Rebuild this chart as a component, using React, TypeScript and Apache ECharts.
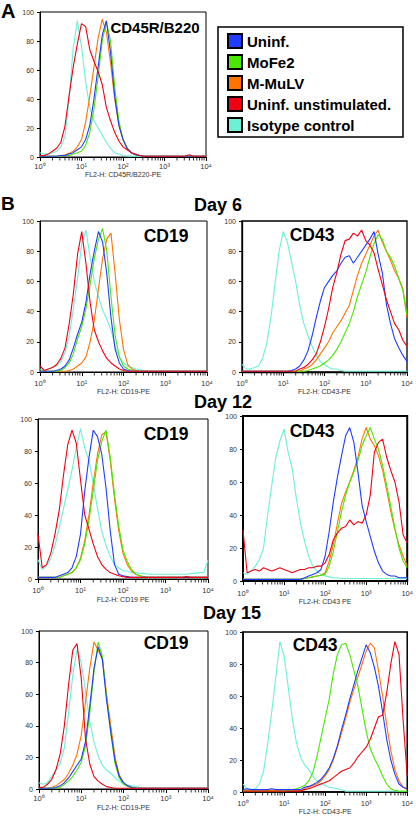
import React, { useEffect, useRef } from 'react';
import * as echarts from 'echarts';

// log10 of fluorescence intensity (decades)
const X_LOG = [0, 0.1, 0.2, 0.3, 0.4, 0.5, 0.6, 0.7, 0.8, 0.9, 1, 1.1, 1.2, 1.3, 1.4, 1.5, 1.6, 1.7, 1.8, 1.9, 2, 2.1, 2.2, 2.3, 2.4, 2.5, 2.6, 2.7, 2.8, 2.9, 3, 3.1, 3.2, 3.3, 3.4, 3.5, 3.6, 3.7, 3.8, 3.9, 4];
const X_TICK_LABELS = ['10⁰', '10¹', '10²', '10³', '10⁴'];
const SERIES_NAMES = ['Uninf.', 'MoFe2', 'M-MuLV', 'Uninf. unstimulated.', 'Isotype control'];

// Panel A: CD45R/B220
const A_BLUE = [0.5, 0.5, 0.5, 0.5, 0.5, 1, 1, 2, 3, 5, 7, 12, 22, 40, 62, 84, 94, 72, 42, 22, 12, 6, 3, 1.5, 1, 0.5, 0.5, 0.5, 0.5, 0.5, 0.5, 0.5, 0.5, 0.5, 0.5, 0.5, 0.5, 0.5, 0.5, 0.5, 0.5];
const A_GREEN = [0.5, 0.5, 0.5, 0.5, 0.5, 0.5, 1, 1, 2, 3, 4, 8, 17, 33, 55, 80, 93, 80, 48, 25, 12, 6, 3, 1.5, 1, 0.5, 0.5, 0.5, 0.5, 0.5, 0.5, 0.5, 0.5, 0.5, 0.5, 0.5, 0.5, 0.5, 0.5, 0.5, 0.5];
const A_ORANGE = [0.5, 0.5, 0.5, 0.5, 0.5, 1, 1.5, 2.5, 4, 7, 12, 24, 42, 62, 82, 95, 86, 65, 40, 22, 12, 6, 3, 1.5, 1, 0.5, 0.5, 0.5, 0.5, 0.5, 0.5, 0.5, 0.5, 0.5, 0.5, 0.5, 0.5, 0.5, 0.5, 0.5, 0.5];
const A_RED = [1, 1, 2, 4, 6, 10, 21, 42, 62, 78, 92, 90, 74, 66, 59, 50, 34, 25, 17, 11, 7, 5, 3, 2, 1, 0.5, 0.5, 0.5, 0.5, 0.5, 0.5, 0.5, 0.5, 0.5, 0.5, 0.5, 1.5, 0.5, 0.5, 0.5, 0.5];
const A_CYAN = [3, 2, 2, 3, 4, 7, 14, 40, 75, 94, 76, 52, 34, 25, 20, 15, 10, 6, 3, 2, 1, 0.8, 0.6, 0.5, 0.5, 0.5, 0.5, 0.5, 0.5, 0.5, 0.5, 0.5, 0.5, 0.5, 0.5, 0.5, 0.5, 0.5, 0.5, 0.5, 1];

// Day 6 CD19
const D6_CD19_BLUE = [0.5, 0.5, 0.5, 0.5, 1, 2, 4, 8, 16, 25, 33, 46, 65, 80, 93, 86, 65, 36, 15, 6, 2, 1, 0.5, 0.5, 0.5, 0.5, 0.5, 0.5, 0.5, 0.5, 0.5, 0.5, 0.5, 0.5, 0.5, 0.5, 0.5, 0.5, 0.5, 0.5, 0.5];
const D6_CD19_GREEN = [0.5, 0.5, 0.5, 0.5, 0.5, 1, 3, 6, 12, 22, 30, 42, 58, 75, 88, 95, 80, 50, 24, 10, 4, 2, 1, 0.5, 0.5, 0.5, 0.5, 0.5, 0.5, 0.5, 0.5, 0.5, 0.5, 0.5, 0.5, 0.5, 0.5, 0.5, 0.5, 0.5, 0.5];
const D6_CD19_ORANGE = [0.5, 0.5, 0.5, 0.5, 0.5, 0.5, 0.5, 1, 2, 4, 6, 10, 20, 34, 55, 75, 88, 92, 65, 35, 15, 5, 2, 1, 0.5, 0.5, 0.5, 0.5, 0.5, 0.5, 0.5, 0.5, 0.5, 0.5, 0.5, 0.5, 0.5, 0.5, 0.5, 0.5, 0.5];
const D6_CD19_RED = [4, 1, 2, 3, 5, 9, 16, 32, 52, 78, 93, 72, 46, 28, 20, 14, 9, 6, 4, 2, 1, 0.5, 0.5, 0.5, 0.5, 0.5, 0.5, 0.5, 0.5, 0.5, 0.5, 0.5, 0.5, 0.5, 0.5, 0.5, 0.5, 0.5, 0.5, 0.5, 0.5];
const D6_CD19_CYAN = [2, 1, 2, 3, 4, 7, 13, 24, 42, 62, 85, 94, 76, 60, 50, 41, 35, 28, 17, 10, 6, 4, 3, 2, 1.5, 1, 0.5, 0.5, 0.5, 0.5, 0.5, 0.5, 0.5, 0.5, 0.5, 0.5, 0.5, 0.5, 0.5, 0.5, 0.5];

// Day 6 CD43
const D6_CD43_BLUE = [0.5, 0.5, 0.5, 0.5, 0.5, 0.5, 0.5, 0.5, 0.5, 0.5, 0.5, 0.5, 1, 2, 4, 8, 14, 24, 36, 47, 56, 60, 64, 67, 72, 76, 77, 72, 76, 80, 84, 88, 93, 78, 66, 45, 32, 22, 16, 11, 7];
const D6_CD43_GREEN = [0.5, 0.5, 0.5, 0.5, 0.5, 0.5, 0.5, 0.5, 0.5, 0.5, 0.5, 0.5, 0.5, 0.5, 0.5, 0.5, 1, 2, 3, 4, 6, 8, 11, 15, 20, 26, 32, 40, 50, 58, 66, 76, 85, 91, 88, 80, 76, 70, 62, 54, 38];
const D6_CD43_ORANGE = [0.5, 0.5, 0.5, 0.5, 0.5, 0.5, 0.5, 0.5, 0.5, 0.5, 0.5, 0.5, 0.5, 0.5, 0.5, 2, 3, 5, 8, 12, 16, 20, 26, 30, 34, 39, 44, 54, 64, 72, 78, 84, 90, 94, 86, 80, 74, 67, 62, 55, 36];
const D6_CD43_RED = [0.5, 0.5, 0.5, 0.5, 0.5, 0.5, 0.5, 0.5, 0.5, 0.5, 0.5, 0.5, 0.5, 0.5, 2, 3, 5, 8, 12, 20, 30, 42, 56, 66, 78, 87, 88, 92, 90, 94, 87, 84, 79, 68, 58, 48, 40, 32, 28, 21, 17];
const D6_CD43_CYAN = [5, 2, 2, 3, 4, 9, 19, 36, 58, 80, 93, 86, 73, 60, 44, 32, 24, 17, 11, 7, 5, 3, 2, 2, 1, 0.5, 0.5, 0.5, 0.5, 0.5, 0.5, 0.5, 0.5, 0.5, 0.5, 0.5, 0.5, 0.5, 0.5, 0.5, 0.5];

// Day 12 CD19
const D12_CD19_BLUE = [1, 1, 1, 1, 1, 2, 3, 4, 7, 14, 28, 55, 76, 93, 89, 78, 57, 30, 9, 3, 2, 1.5, 1, 1, 1, 1, 1, 1, 1, 1, 1, 1, 1, 1, 1, 1, 1, 1, 1, 1, 1];
const D12_CD19_GREEN = [1, 1, 1, 1, 1, 1, 2, 3, 4, 7, 12, 22, 37, 55, 74, 86, 93, 76, 53, 33, 18, 11, 6, 3, 2, 1.5, 1, 1, 1, 1, 1, 1, 1, 1, 1, 1, 1, 1, 1, 1, 1];
const D12_CD19_ORANGE = [1, 1, 1, 1, 1, 1, 2, 3, 4, 7, 13, 24, 40, 60, 78, 90, 92, 74, 50, 30, 16, 9, 5, 3, 2, 1, 1, 1, 1, 1, 1, 1, 1, 1, 1, 1, 1, 1, 1, 1, 1];
const D12_CD19_RED = [28, 7, 9, 16, 28, 43, 65, 84, 93, 85, 62, 40, 31, 22, 14, 9, 6, 4, 3, 2, 1.5, 1, 1, 1, 1, 1, 1, 1, 1, 1, 1, 1, 1, 1, 1, 1.5, 1, 1, 1, 1, 1];
const D12_CD19_CYAN = [12, 6, 8, 13, 21, 32, 44, 56, 68, 82, 94, 82, 74, 60, 44, 30, 21, 14, 9, 7, 5, 5, 4, 4, 3.5, 3.5, 3, 3, 3, 3, 3, 3, 3, 3, 3, 3, 3.5, 3.5, 4, 4, 12];

// Day 12 CD43
const D12_CD43_BLUE = [1, 1, 1, 1, 1, 1, 1, 1, 1, 1, 1, 1, 1, 1, 1, 2, 3, 4, 5, 7, 15, 30, 48, 63, 76, 88, 93, 84, 66, 46, 36, 27, 18, 11, 6, 4, 3, 3, 2, 2, 2];
const D12_CD43_GREEN = [1, 1, 1, 1, 1, 1, 1, 1, 1, 1, 1, 1, 1, 1, 1, 1.5, 2, 2.5, 3, 3.5, 4, 9, 18, 30, 42, 52, 60, 66, 73, 82, 88, 93, 86, 80, 70, 58, 45, 32, 20, 12, 8];
const D12_CD43_ORANGE = [1, 1, 1, 1, 1, 1, 1, 1, 1, 1, 1, 1, 1, 1, 1, 1.5, 2, 2.5, 3, 3.5, 5, 12, 22, 35, 47, 54, 60, 67, 75, 86, 93, 86, 82, 76, 67, 55, 42, 31, 22, 15, 9];
const D12_CD43_RED = [31, 5, 6, 7, 6, 8, 7, 6, 7, 8, 7, 6, 5, 6, 7, 7, 8, 8, 9, 9, 11, 16, 25, 29, 32, 33, 37, 34, 36, 35, 40, 52, 78, 84, 86, 75, 67, 60, 48, 28, 23];
const D12_CD43_CYAN = [5, 4, 6, 9, 13, 20, 40, 58, 75, 85, 92, 78, 68, 50, 35, 24, 15, 9, 6, 4, 3, 2.5, 2, 2, 1.5, 1.5, 1.5, 1.5, 1.5, 1.5, 1.5, 1.5, 1.5, 1.5, 1.5, 1.5, 1.5, 1.5, 1.5, 1.5, 1.5];

// Day 15 CD19
const D15_CD19_BLUE = [0.5, 0.5, 0.5, 0.5, 1, 2, 4, 7, 11, 15, 19, 30, 52, 76, 90, 82, 56, 36, 18, 8, 4, 2, 1, 0.5, 0.5, 0.5, 0.5, 0.5, 0.5, 0.5, 0.5, 0.5, 0.5, 0.5, 0.5, 0.5, 0.5, 0.5, 0.5, 0.5, 0.5];
const D15_CD19_GREEN = [0.5, 0.5, 0.5, 0.5, 0.5, 1, 3, 5, 8, 12, 17, 27, 48, 74, 93, 84, 58, 35, 16, 7, 3, 1.5, 1, 0.5, 0.5, 0.5, 0.5, 0.5, 0.5, 0.5, 0.5, 0.5, 0.5, 0.5, 0.5, 0.5, 0.5, 0.5, 0.5, 0.5, 0.5];
const D15_CD19_ORANGE = [0.5, 0.5, 0.5, 1, 2, 4, 6, 10, 15, 22, 34, 55, 76, 93, 88, 82, 60, 40, 20, 9, 4, 2, 1, 0.5, 0.5, 0.5, 0.5, 0.5, 0.5, 0.5, 0.5, 0.5, 0.5, 0.5, 0.5, 0.5, 0.5, 0.5, 0.5, 0.5, 0.5];
const D15_CD19_RED = [1, 1, 3, 6, 12, 22, 40, 66, 88, 92, 70, 32, 16, 8, 5, 3, 1.5, 1, 0.5, 0.5, 0.5, 0.5, 0.5, 0.5, 0.5, 0.5, 0.5, 0.5, 0.5, 0.5, 0.5, 0.5, 0.5, 0.5, 0.5, 0.5, 0.5, 0.5, 0.5, 0.5, 0.5];
const D15_CD19_CYAN = [4, 3, 4, 8, 12, 16, 26, 48, 72, 88, 80, 62, 43, 30, 21, 15, 12, 10, 7, 5, 3, 2.5, 2, 1.5, 1, 0.5, 0.5, 0.5, 0.5, 0.5, 0.5, 0.5, 0.5, 0.5, 0.5, 0.5, 0.5, 0.5, 0.5, 0.5, 0.5];

// Day 15 CD43
const D15_CD43_BLUE = [1.5, 2, 1.5, 1.5, 1.5, 1.5, 1.5, 2, 1.5, 1.5, 1.5, 1.5, 1.5, 1.5, 1.5, 3, 3.5, 4.5, 6, 8, 11, 15, 21, 29, 39, 48, 58, 67, 76, 84, 92, 87, 78, 66, 50, 33, 20, 11, 5, 3, 2];
const D15_CD43_GREEN = [0.5, 0.5, 0.5, 0.5, 0.5, 0.5, 0.5, 0.5, 0.5, 0.5, 0.5, 1, 1.5, 2, 3, 4, 7, 12, 22, 34, 46, 58, 74, 86, 92, 93, 86, 76, 66, 52, 38, 27, 21, 16, 10, 5, 2, 1, 0.5, 0.5, 0.5];
const D15_CD43_ORANGE = [1, 1, 1, 1, 1, 1, 1, 1, 1, 1, 1, 1, 1, 1, 1, 2, 3, 4, 5, 7, 10, 14, 20, 28, 37, 46, 56, 64, 72, 80, 88, 93, 90, 76, 60, 42, 26, 14, 7, 3, 1.5];
const D15_CD43_RED = [0.5, 0.5, 0.5, 0.5, 0.5, 0.5, 0.5, 0.5, 0.5, 0.5, 0.5, 0.5, 0.5, 0.5, 0.5, 1.5, 2, 3, 4, 5, 6, 7, 9, 11, 13, 14, 15, 18, 22, 25, 28, 33, 40, 47, 48, 62, 80, 94, 86, 45, 10];
const D15_CD43_CYAN = [5, 2, 1.5, 2, 5, 13, 30, 50, 72, 94, 85, 66, 46, 31, 22, 17, 14, 10, 7, 5, 4, 3, 2.5, 2, 1.5, 0.5, 0.5, 0.5, 0.5, 0.5, 0.5, 0.5, 0.5, 0.5, 0.5, 0.5, 0.5, 0.5, 0.5, 0.5, 0.5];

const COLORS: Record<string, string> = {
  'Uninf.': '#1f3cff',
  'MoFe2': '#48e800',
  'M-MuLV': '#ff7300',
  'Uninf. unstimulated.': '#f00012',
  'Isotype control': '#6cf0d6',
};

const FONT = '"Liberation Sans", Arial, Helvetica, sans-serif';

type Panel = {
  grid: { left: number; top: number; width: number; height: number };
  title: string; tx: number; ty: number; tsize: number;
  axisName: string; nameGap: number; labelMargin: number; border: number;
  blue: number[]; green: number[]; orange: number[]; red: number[]; cyan: number[];
};

const PANELS: Panel[] = [
  { grid: { left: 40, top: 12, width: 166, height: 145 }, title: 'CD45R/B220', tx: 155, ty: 27, tsize: 15,
    axisName: 'FL2-H: CD45R/B220-PE', nameGap: 13, labelMargin: 5, border: 1,
    blue: A_BLUE, green: A_GREEN, orange: A_ORANGE, red: A_RED, cyan: A_CYAN },
  { grid: { left: 40, top: 221, width: 167, height: 151 }, title: 'CD19', tx: 166, ty: 236, tsize: 17.5,
    axisName: 'FL2-H: CD19-PE', nameGap: 16, labelMargin: 7, border: 1,
    blue: D6_CD19_BLUE, green: D6_CD19_GREEN, orange: D6_CD19_ORANGE, red: D6_CD19_RED, cyan: D6_CD19_CYAN },
  { grid: { left: 242, top: 221, width: 165, height: 151 }, title: 'CD43', tx: 312, ty: 235, tsize: 17.5,
    axisName: 'FL2-H: CD43-PE', nameGap: 16, labelMargin: 7, border: 1.3,
    blue: D6_CD43_BLUE, green: D6_CD43_GREEN, orange: D6_CD43_ORANGE, red: D6_CD43_RED, cyan: D6_CD43_CYAN },
  { grid: { left: 38, top: 419, width: 170, height: 160 }, title: 'CD19', tx: 166, ty: 434, tsize: 17.5,
    axisName: 'FL2-H: CD19 PE', nameGap: 17, labelMargin: 7, border: 1,
    blue: D12_CD19_BLUE, green: D12_CD19_GREEN, orange: D12_CD19_ORANGE, red: D12_CD19_RED, cyan: D12_CD19_CYAN },
  { grid: { left: 243, top: 416, width: 165, height: 165 }, title: 'CD43', tx: 312, ty: 431, tsize: 17.5,
    axisName: 'FL2-H: CD43 PE', nameGap: 16, labelMargin: 8, border: 2,
    blue: D12_CD43_BLUE, green: D12_CD43_GREEN, orange: D12_CD43_ORANGE, red: D12_CD43_RED, cyan: D12_CD43_CYAN },
  { grid: { left: 39, top: 631, width: 169, height: 158 }, title: 'CD19', tx: 166, ty: 643, tsize: 17.5,
    axisName: 'FL2-H: CD19-PE', nameGap: 15, labelMargin: 5, border: 1,
    blue: D15_CD19_BLUE, green: D15_CD19_GREEN, orange: D15_CD19_ORANGE, red: D15_CD19_RED, cyan: D15_CD19_CYAN },
  { grid: { left: 243, top: 632, width: 165, height: 160 }, title: 'CD43', tx: 315, ty: 645, tsize: 17.5,
    axisName: 'FL2-H: CD43-PE', nameGap: 16, labelMargin: 7, border: 1.5,
    blue: D15_CD43_BLUE, green: D15_CD43_GREEN, orange: D15_CD43_ORANGE, red: D15_CD43_RED, cyan: D15_CD43_CYAN },
];

// minor tick positions of a 4-decade log axis (2..9 x 10^d)
const MINOR_TICKS: number[] = [];
for (let d = 0; d < 4; d++) for (let k = 2; k <= 9; k++) MINOR_TICKS.push(d + Math.log10(k));

function buildOption() {
  const grid: any[] = [];
  const xAxis: any[] = [];
  const yAxis: any[] = [];
  const series: any[] = [];
  const graphic: any[] = [];

  PANELS.forEach((p, i) => {
    grid.push({ ...p.grid, show: true, borderColor: '#000', borderWidth: p.border, backgroundColor: 'transparent', containLabel: false });
    xAxis.push({
      type: 'value', gridIndex: i, min: 0, max: 4, interval: 1,
      name: p.axisName, nameLocation: 'middle', nameGap: p.nameGap,
      nameTextStyle: { fontSize: 7, color: '#333', fontFamily: FONT },
      axisLine: { show: true, lineStyle: { color: '#000', width: p.border } },
      axisTick: { show: true, length: 4, lineStyle: { color: '#000' } },
      splitLine: { show: false },
      axisLabel: {
        fontSize: 7.5, color: '#333', fontFamily: FONT, margin: p.labelMargin,
        formatter: (v: number) => X_TICK_LABELS[Math.round(v)] ?? '',
      },
    });
    yAxis.push({
      type: 'value', gridIndex: i, min: 0, max: 100, interval: 20,
      axisLine: { show: true, lineStyle: { color: '#000', width: p.border } },
      axisTick: { show: true, length: 3, lineStyle: { color: '#000' } },
      splitLine: { show: false },
      axisLabel: { fontSize: 7, color: '#333', fontFamily: FONT, margin: 6 },
    });
    const curves: [string, number[]][] = [
      ['Isotype control', p.cyan],
      ['M-MuLV', p.orange],
      ['MoFe2', p.green],
      ['Uninf.', p.blue],
      ['Uninf. unstimulated.', p.red],
    ];
    curves.forEach(([name, vals]) => {
      series.push({
        type: 'line', name, xAxisIndex: i, yAxisIndex: i,
        data: X_LOG.map((x, j) => [x, vals[j]]),
        showSymbol: false, symbol: 'none', color: COLORS[name],
        lineStyle: { width: 1.1, color: COLORS[name] }, silent: true,
      });
    });
    series.push({
      type: 'scatter', xAxisIndex: i, yAxisIndex: i, silent: true, clip: false,
      data: MINOR_TICKS.map((x) => [x, 0]),
      symbol: 'rect', symbolSize: [1, 3], symbolOffset: [0, 2],
      itemStyle: { color: '#000' }, z: 5,
    });
    graphic.push({
      type: 'text', x: p.tx, y: p.ty, z: 20,
      style: { text: p.title, font: `bold ${p.tsize}px ${FONT}`, fill: '#000', textAlign: 'center', textVerticalAlign: 'middle' },
    });
  });

  const heads: [string, number, number, number, string][] = [
    ['A', 1, 11, 20, 'left'],
    ['B', 1, 203, 19, 'left'],
    ['Day 6', 218, 205, 18, 'center'],
    ['Day 12', 223, 402, 18, 'center'],
    ['Day 15', 232, 613, 18, 'center'],
  ];
  heads.forEach(([t, x, y, s, a]) => {
    graphic.push({
      type: 'text', x, y, z: 20,
      style: { text: t, font: `bold ${s}px ${FONT}`, fill: '#000', textAlign: a, textVerticalAlign: 'middle' },
    });
  });
  graphic.push({
    type: 'rect', z: 1, shape: { x: 218, y: 27, width: 185, height: 110 },
    style: { fill: '#fff', stroke: '#000', lineWidth: 1.5 },
  });

  return {
    animation: false,
    backgroundColor: '#fff',
    grid, xAxis, yAxis, series, graphic,
    legend: {
      data: SERIES_NAMES, orient: 'vertical', left: 227, top: 33, padding: 0,
      itemWidth: 14, itemHeight: 14, itemGap: 5, icon: 'rect', z: 30,
      itemStyle: { borderColor: '#000', borderWidth: 2 },
      textStyle: { fontSize: 15, fontWeight: 'bold', color: '#000', fontFamily: FONT },
      selectedMode: false,
    },
  };
}

export default function App() {
  const ref = useRef<HTMLDivElement>(null);
  useEffect(() => {
    if (!ref.current) return;
    const chart = echarts.init(ref.current, null, { renderer: 'svg' });
    chart.setOption(buildOption() as any);
    return () => chart.dispose();
  }, []);
  return (
    <div
      ref={ref}
      style={{ position: 'absolute', left: 0, top: 0, width: 416, height: 816, background: '#fff' }}
    />
  );
}
